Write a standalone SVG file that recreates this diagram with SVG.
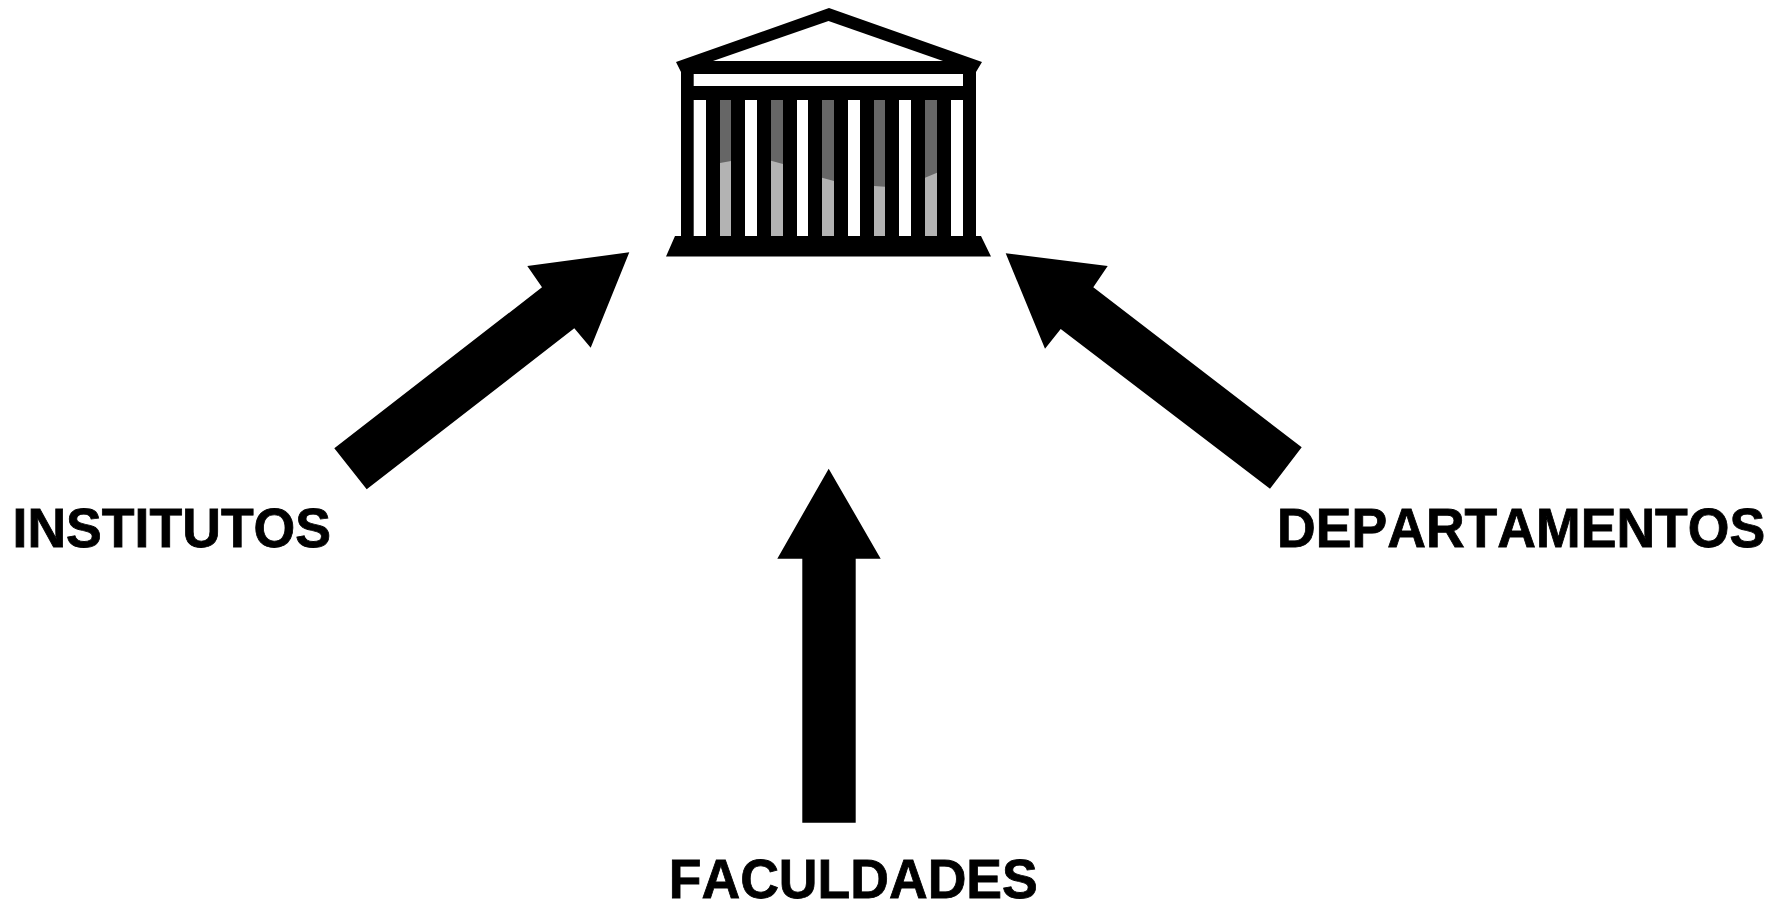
<svg xmlns="http://www.w3.org/2000/svg" width="1785" height="901" viewBox="0 0 1785 901">
<style>
.l{font-family:"Liberation Sans",Arial,sans-serif;font-weight:700;font-size:53.600px;font-kerning:none;fill:#000;stroke:#000;stroke-width:.8px}
.w{fill:#fff}.d{fill:#666}.g{fill:#b3b3b3}
</style>
<rect width="1785" height="901" fill="#fff"/>
<g id="building">
<path d="M829 8L982 62L976 72V236H981L991 256.500H666L675 236H681V72L676 62Z"/>
<path class="w" d="M828.500 21L943 61H713Z"/>
<rect class="w" x="693.700" y="74" width="269.300" height="12"/>
<rect class="w" x="693.700" y="100" width="12.300" height="136"/>
<rect class="w" x="745" y="100" width="12" height="136"/>
<rect class="w" x="797" y="100" width="11" height="136"/>
<rect class="w" x="848" y="100" width="12" height="136"/>
<rect class="w" x="899" y="100" width="12" height="136"/>
<rect class="w" x="951" y="100" width="12" height="136"/>
<rect class="d" x="720" y="100" width="11" height="136"/>
<rect class="d" x="771" y="100" width="12" height="136"/>
<rect class="d" x="822" y="100" width="12" height="136"/>
<rect class="d" x="874" y="100" width="11" height="136"/>
<rect class="d" x="925" y="100" width="12" height="136"/>
<path class="g" d="M720 163L731 161V236H720Z"/>
<path class="g" d="M771 160.700L783 164V236H771Z"/>
<path class="g" d="M822 177.700L834 181V236H822Z"/>
<path class="g" d="M874 186L885 186.700V236H874Z"/>
<path class="g" d="M925 177.700L937 172.700V236H925Z"/>
</g>
<g id="connectors">
<path d="M334.300 448.300L542 287.300L527.300 266L629.300 252.300L590.700 347.700L574.300 328.300L366.700 489.300Z"/>
<path d="M1301.700 447.300L1093.300 287.300L1107.700 266L1005.700 253.300L1045 348.700L1060.700 329L1270 488.700Z"/>
<path d="M828.700 468.700L880.700 558.700H855.700V822.700H802.300V558.700H777.300Z"/>
</g>
<g id="institutos"><text class="l" transform="translate(12.500 547) scale(1 1.035)">INSTITUTOS</text></g>
<g id="departamentos"><text class="l" transform="translate(1277 547) scale(1 1.035)">DEPARTAMENTOS</text></g>
<g id="faculdades"><text class="l" transform="translate(668.700 898) scale(1 1.035)">FACULDADES</text></g>
</svg>
